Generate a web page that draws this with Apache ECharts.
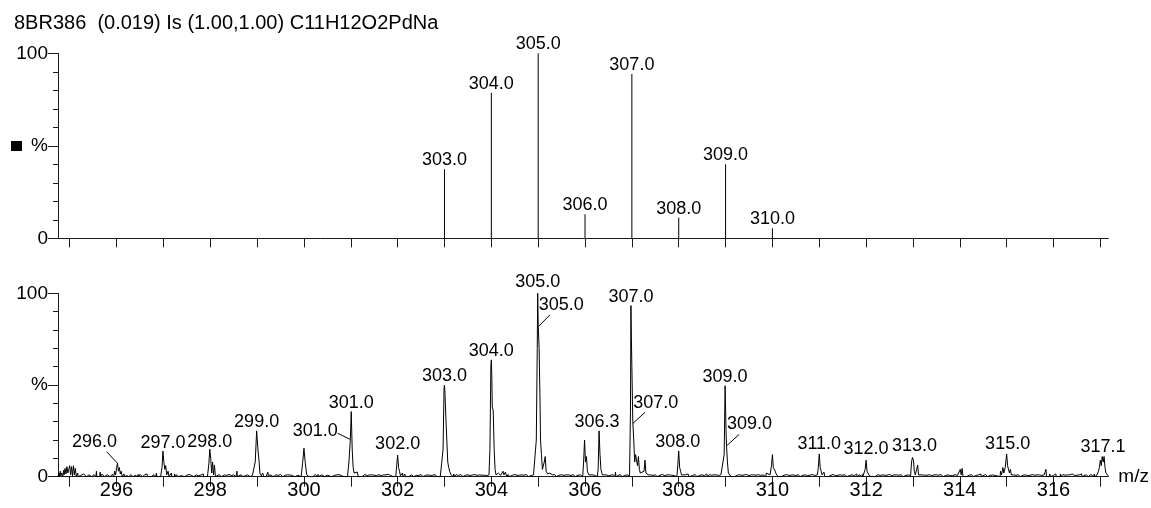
<!DOCTYPE html>
<html><head><meta charset="utf-8">
<script src="https://cdn.jsdelivr.net/npm/echarts@6/dist/echarts.min.js"></script>
<style>html,body{margin:0;padding:0;background:#fff}#c{width:1151px;height:508px}</style>
</head><body><div id="c"></div>
<script>
// ---------------- DATA ----------------
const TITLE = "8BR386  (0.019) Is (1.00,1.00) C11H12O2PdNa";
const X_NAME = "m/z";
const xTickValues = [295,296,297,298,299,300,301,302,303,304,305,306,307,308,309,310,311,312,313,314,315,316,317];
const xLabelValues = [296,298,300,302,304,306,308,310,312,314,316];
const yLabelText = {0:"0", 50:"%", 100:"100"};

// theoretical isotope pattern (top panel)
const theoMz = [303,304,305,306,307,308,309,310];
const theoInt = [37.3,78.7,100,13,88.8,11.1,40,5.4];
const theoLabels = ["303.0","304.0","305.0","306.0","307.0","308.0","309.0","310.0"];

// measured profile spectrum (bottom panel) [m/z, %]
const spectrum = [
[294.75,0],[294.77,2],[294.78,0],[294.80,3],[294.81,0.5],[294.83,2],[294.85,0],[294.87,3.5],[294.88,1],[294.90,4.5],[294.92,1.5],[294.94,5.5],[294.96,2],[294.98,4],[295.00,6],[295.02,1],[295.04,5.5],[295.06,0.5],[295.08,6],[295.10,1],[295.12,4.5],[295.14,0],[295.17,2],[295.18,0],[295.25,0],[295.26,1],[295.27,0],[295.36,0],[295.37,0.8],[295.38,0],[295.47,0],[295.48,0.6],[295.49,0],[295.56,0],[295.57,3],[295.58,0],[295.64,0],[295.65,2.5],[295.66,0],[295.74,0],[295.75,0.8],[295.76,0],[295.86,0],[295.87,1],[295.88,0],
[295.94,0],[295.96,3],[295.98,1],[296.0,5],[296.02,7.3],[296.04,3],[296.06,5],[296.08,1.5],[296.1,3],[296.12,0],[296.15,0],[296.16,1.5],[296.17,0],[296.25,0],[296.26,1],[296.27,0],[296.35,0],[296.36,0.8],[296.37,0],[296.45,0],[296.46,1.2],[296.47,0],[296.55,0],[296.56,0.6],[296.57,0],[296.64,0],[296.65,1.5],[296.66,0],[296.74,0],[296.75,0.6],[296.76,0],[296.84,0],[296.85,2],[296.86,0],
[296.94,0],[296.97,5],[296.99,14],[297.01,8],[297.03,4],[297.05,6],[297.07,1],[297.1,3],[297.12,0],[297.16,0],[297.17,2],[297.18,0],[297.23,0],[297.24,1.5],[297.25,0],[297.32,0],[297.33,0.8],[297.34,0],[297.45,0],[297.46,0.5],[297.47,0],[297.65,0],[297.66,0.5],[297.67,0],[297.84,0],[297.85,1.5],[297.86,0],
[297.94,0],[297.97,7],[297.99,15],[298.01,10],[298.03,2],[298.05,8],[298.07,1],[298.09,6.4],[298.11,0],[298.24,0],[298.25,1],[298.3,1],[298.31,0],[298.55,0],[298.56,0.5],[298.57,3],[298.58,0],[298.69,0],[298.7,0.5],[298.71,0],[298.85,0],[298.86,0.8],[298.87,0],
[298.93,0],[298.96,8],[298.99,25],[299.02,14],[299.04,9],[299.06,2],[299.09,0.5],[299.12,2],[299.14,0],[299.19,0],[299.2,1],[299.22,0],[299.23,2.5],[299.24,0],[299.35,0],[299.36,0.5],[299.37,0],[299.55,0],[299.56,0.8],[299.57,0],[299.69,0],[299.7,1],[299.71,0],[299.81,0],[299.82,1],[299.83,0],
[299.94,0],[299.97,7],[300.0,15.5],[300.03,7],[300.06,1],[300.09,2],[300.11,0],[300.19,0],[300.2,1],[300.21,0],[300.29,0],[300.3,1.2],[300.31,0],[300.44,0],[300.45,1],[300.46,0],[300.59,0],[300.6,0.8],[300.61,0],[300.69,0],[300.7,1],[300.71,0],[300.86,0],[300.87,1],[300.88,0],
[300.93,0],[300.96,8],[300.99,20],[301.01,35.5],[301.03,15],[301.05,5],[301.07,2],[301.09,3],[301.11,1],[301.14,2.5],[301.16,0],[301.24,0],[301.25,1],[301.26,0],[301.44,0],[301.45,1],[301.46,0],[301.54,0],[301.55,0.6],[301.56,0],[301.74,0],[301.75,1],[301.76,0],[301.91,0],[301.92,0.8],[301.93,0],
[301.96,0],[301.98,6],[302.0,11.8],[302.02,5],[302.04,3],[302.06,0.5],[302.1,2],[302.12,0],[302.15,1.5],[302.17,0],[302.24,0],[302.25,1],[302.26,0],[302.34,0],[302.35,0.8],[302.36,0],[302.44,0],[302.45,0.6],[302.46,0],[302.54,0],[302.55,1],[302.56,0],[302.74,0],[302.75,0.8],[302.76,0],[302.84,0],[302.85,0.6],[302.86,0],[302.91,0],[302.92,1],
[302.95,1],[302.97,15],[302.99,48],[303.0,50],[303.01,46],[303.03,32],[303.05,20],[303.07,8],[303.09,5],[303.11,3],[303.14,1],[303.19,0],[303.2,1.5],[303.21,0],[303.39,0],[303.4,0.8],[303.41,0],[303.59,0],[303.6,1],[303.61,0],[303.79,0],[303.8,0.8],[303.81,0],[303.89,0],[303.9,0.6],[303.91,0],
[303.95,1],[303.97,15],[303.99,60],[304.0,63.7],[304.01,55],[304.02,38],[304.04,36],[304.06,15],[304.08,4],[304.1,1],[304.15,2],[304.2,0.8],[304.25,3],[304.27,1],[304.3,2.5],[304.33,0],[304.39,0],[304.4,1],[304.41,0],[304.59,0],[304.6,0.8],[304.61,0],[304.79,0],[304.8,0.8],[304.81,0],[304.89,0],[304.9,1],
[304.93,1],[304.96,20],[304.98,70],[304.99,100],[305.0,83],[305.02,70],[305.04,40],[305.05,20],[305.07,12],[305.09,4],[305.11,3],[305.13,8],[305.15,11],[305.17,3],[305.2,1.5],[305.25,2],[305.3,1],[305.32,0],[305.39,0],[305.4,0.8],[305.41,0],[305.59,0],[305.6,1],[305.61,0],[305.79,0],[305.8,0.8],[305.81,0],
[305.95,0],[305.97,8],[305.99,20],[306.01,8],[306.03,11],[306.05,3],[306.08,1],[306.1,2],[306.12,0],[306.19,0],[306.2,0.8],[306.21,0],[306.26,0],[306.28,4],[306.3,25],[306.32,12],[306.34,4],[306.37,1],[306.39,0],[306.54,0],[306.55,0.8],[306.56,0],[306.64,0],[306.65,2.5],[306.66,0],[306.79,0],[306.8,0.8],[306.81,0],
[306.95,0.5],[306.97,35],[306.98,93.3],[306.99,75],[307.0,60],[307.02,30],[307.04,20],[307.06,8],[307.08,12],[307.1,13],[307.12,6],[307.14,11],[307.16,4],[307.18,2],[307.22,1],[307.26,3],[307.28,9],[307.3,2],[307.35,1],[307.37,0],[307.54,0],[307.55,0.8],[307.56,0],[307.74,0],[307.75,1],[307.76,0],[307.92,0],[307.93,0.8],[307.94,0],
[307.96,0],[307.98,6],[308.0,14],[308.02,5],[308.04,3],[308.06,1],[308.1,2],[308.15,1],[308.2,1.5],[308.22,0],[308.39,0],[308.4,1],[308.41,0],[308.59,0],[308.6,1.5],[308.61,0],[308.79,0],[308.8,1],[308.81,0],
[308.94,0.5],[308.97,12],[308.99,49.6],[309.01,25],[309.02,17],[309.04,8],[309.06,2],[309.1,1],[309.12,0],[309.19,0],[309.2,0.8],[309.21,0],[309.39,0],[309.4,1],[309.41,0],[309.59,0],[309.6,1],[309.61,0],[309.79,0],[309.8,1],[309.81,0],[309.86,0],[309.87,2],[309.9,1],
[309.95,1],[309.98,6],[310.0,12],[310.02,5],[310.04,5],[310.06,3],[310.08,1.5],[310.12,0],[310.19,0],[310.2,1],[310.21,0],[310.39,0],[310.4,0.8],[310.41,0],[310.59,0],[310.6,0.8],[310.61,0],[310.79,0],[310.8,0.8],[310.81,0],
[310.96,1],[310.98,5],[311.0,12.4],[311.02,5],[311.04,4],[311.06,1],[311.1,2.5],[311.12,0],[311.19,0],[311.2,1],[311.21,0],[311.39,0],[311.4,0.8],[311.41,0],[311.59,0],[311.6,1],[311.61,0],[311.79,0],[311.8,1.5],[311.81,0],[311.91,0],[311.92,1.2],[311.93,0],
[311.96,0.5],[311.98,4],[312.0,9],[312.02,3],[312.04,2],[312.07,0.5],[312.1,1.5],[312.12,0],[312.19,0],[312.2,1],[312.21,0],[312.39,0],[312.4,0.8],[312.41,0],[312.59,0],[312.6,1],[312.61,0],[312.79,0],[312.8,0.8],[312.81,0],
[312.95,0.5],[312.97,8],[312.99,10.5],[313.01,9],[313.03,3],[313.05,1],[313.08,4],[313.1,6.4],[313.12,1],[313.15,0],[313.24,0],[313.25,0.8],[313.26,0],[313.44,0],[313.45,1],[313.46,0],[313.64,0],[313.65,0.8],[313.66,0],[313.84,0],[313.85,0.6],[313.86,0],
[313.99,0.5],[314.01,4],[314.03,1],[314.05,4.5],[314.07,0],[314.14,0],[314.15,0.8],[314.16,0],[314.29,0],[314.3,1],[314.31,0],[314.44,0],[314.45,1.5],[314.46,0],[314.59,0],[314.6,0.8],[314.61,0],[314.79,0],[314.8,0.5],[314.81,0],[314.86,0],[314.87,3],[314.89,1],[314.92,5],[314.94,2],
[314.97,5],[315.0,12.4],[315.02,6],[315.04,5],[315.06,2],[315.08,4],[315.1,1],[315.12,0],[315.29,0],[315.3,1],[315.31,0],[315.49,0],[315.5,0.8],[315.51,0],[315.69,0],[315.7,1],[315.71,0],[315.83,0],[315.84,4],[315.85,0],[315.91,0],[315.92,1.5],[315.93,0],
[316.04,0],[316.05,1.5],[316.06,0],[316.14,0],[316.15,1.5],[316.16,0],[316.29,0],[316.3,1],[316.31,0],[316.49,0],[316.5,0.8],[316.51,0],[316.59,0],[316.6,1.5],[316.61,0],[316.74,0],[316.75,1],[316.76,0],[316.86,0],[316.87,1.5],[316.88,0],[316.92,0],[316.93,1],
[316.96,3],[316.98,5],[317.0,9],[317.02,6],[317.04,11],[317.06,8],[317.08,11],[317.1,5],[317.12,2],[317.14,3],[317.17,0.5]
];
// small baseline noise spikes [m/z, %]
const baselineNoise = [
[295.21,1],[295.23,0.6],[295.30,1.5],[295.33,0.7],[295.41,1],[295.44,0.6],[295.52,1.2],[295.61,0.8],[295.69,1.4],[295.72,0.6],[295.80,1.1],[295.83,0.7],[295.91,1.3],
[296.20,1],[296.22,0.6],[296.30,1.2],[296.40,0.7],[296.50,1.3],[296.52,0.5],[296.60,1],[296.70,0.8],[296.80,1.1],[296.90,0.7],
[297.20,0.8],[297.28,1.1],[297.38,0.6],[297.41,1],[297.50,0.8],[297.55,1.2],[297.60,0.7],[297.70,1],[297.75,0.5],[297.80,0.9],[297.90,0.6],
[298.15,0.8],[298.19,1.1],[298.35,0.7],[298.40,1.2],[298.45,0.6],[298.50,1],[298.62,0.8],[298.66,1.1],[298.75,0.6],[298.80,1],[298.90,0.7],
[299.16,0.8],[299.27,1.1],[299.31,0.6],[299.40,1],[299.45,0.7],[299.50,1.2],[299.60,0.8],[299.65,1],[299.75,0.6],[299.78,1.2],[299.87,0.8],[299.91,1],
[300.15,0.8],[300.24,1.2],[300.34,0.6],[300.38,1],[300.50,0.8],[300.54,1.3],[300.65,0.7],[300.75,1.1],[300.80,0.6],[300.90,0.9],
[301.20,0.8],[301.30,1.2],[301.35,0.6],[301.40,1],[301.50,0.8],[301.60,1.1],[301.65,0.6],[301.70,1],[301.80,1.3],[301.85,0.7],
[302.20,0.8],[302.30,1.1],[302.40,0.7],[302.50,1.2],[302.60,0.8],[302.65,1],[302.70,0.6],[302.80,1.1],[302.88,0.7],
[303.17,0.8],[303.25,1.1],[303.30,0.7],[303.35,1.2],[303.45,0.8],[303.50,1],[303.55,0.6],[303.65,1.1],[303.70,0.7],[303.75,1],[303.85,0.8],
[304.36,1.2],[304.45,0.8],[304.50,1.2],[304.55,0.7],[304.65,1],[304.70,0.8],[304.75,1.2],[304.85,0.6],
[305.35,1.2],[305.45,0.8],[305.50,1.1],[305.55,0.7],[305.65,1],[305.70,0.6],[305.75,1.2],[305.85,0.8],[305.90,1],
[306.15,1],[306.23,0.7],[306.45,1],[306.50,0.6],[306.60,1.1],[306.70,0.8],[306.75,1.2],[306.85,0.7],[306.90,1],
[307.40,1],[307.45,0.7],[307.50,1.1],[307.60,0.8],[307.65,1.2],[307.70,0.6],[307.80,1],[307.85,0.8],[307.90,0.6],
[308.25,1],[308.30,0.7],[308.35,1.2],[308.45,0.8],[308.50,1],[308.55,0.6],[308.65,1.1],[308.70,0.8],[308.75,1],[308.85,0.7],[308.90,1],
[309.15,1],[309.25,0.8],[309.30,1.1],[309.35,0.7],[309.45,1.2],[309.50,0.6],[309.55,1],[309.65,0.8],[309.70,1.1],[309.75,0.7],[309.83,1],
[310.15,1],[310.25,0.8],[310.30,1.2],[310.35,0.7],[310.45,1],[310.50,0.6],[310.55,1.1],[310.65,0.8],[310.70,1],[310.75,0.6],[310.85,1.2],[310.90,0.7],
[311.15,1],[311.25,0.8],[311.30,1.2],[311.35,0.6],[311.45,1],[311.50,0.8],[311.55,1.1],[311.65,0.7],[311.70,1],[311.75,0.6],[311.85,1.1],
[312.15,0.8],[312.25,1.1],[312.30,0.7],[312.35,1],[312.45,0.8],[312.50,1.2],[312.55,0.6],[312.65,1],[312.70,0.8],[312.75,1.1],[312.85,0.7],[312.90,1],
[313.20,1],[313.30,0.8],[313.35,1.1],[313.40,0.6],[313.50,1],[313.55,0.8],[313.60,1.2],[313.70,0.7],[313.75,1],[313.80,0.6],[313.90,1.1],[313.95,0.7],
[314.10,1],[314.20,0.8],[314.25,1.1],[314.35,0.7],[314.40,1],[314.50,0.8],[314.55,1.2],[314.65,0.7],[314.70,1],[314.75,0.6],[314.83,1.1],
[315.15,1],[315.20,0.7],[315.25,1.1],[315.35,0.8],[315.40,1],[315.45,0.6],[315.55,1.1],[315.60,0.8],[315.65,1],[315.75,0.7],[315.80,1],
[315.97,1],[316.00,0.7],[316.10,1],[316.20,1.2],[316.25,0.8],[316.35,1],[316.40,1.5],[316.45,0.7],[316.55,1],[316.65,0.8],[316.70,1.1],[316.80,1.2],[316.84,0.6],[316.90,1]
];

// peak annotations (bottom panel)
const peakLabelText = ["296.0","297.0","298.0","299.0","301.0","301.0","302.0","303.0","304.0","305.0","305.0","306.3","307.0","307.0","308.0","309.0","309.0","311.0","312.0","313.0","315.0","317.1"];
const peakLabelMz   = [296.02,296.99,297.99,298.99,300.99,301.01,302.0,303.0,304.0,304.99,305.0,306.3,306.98,307.02,308.0,308.99,309.02,311.0,312.0,312.99,315.0,317.08];
const peakLabelInt  = [7.3,14,15,25,20,35.5,11.8,50,63.7,100,83,25,93.3,30,14,49.6,17,12.4,9,10.5,12.4,11];
// leader lines: [from m/z, from %, to m/z, to %]
const leaders = [
  [296.02,7.3,295.79,13.6],
  [300.98,20.4,300.72,23.7],
  [305.01,82,305.25,88.2],
  [307.02,29,307.28,35.1],
  [309.03,17,309.29,23.1]
];

// ---------------- LAYOUT / STYLE ----------------
const FONT = "'Liberation Sans', Arial, Helvetica, sans-serif";
const INK = '#000';
const AX = '#1a1a1a';
const peakLabelOffsets = [[-23,-12],[0,1],[0,2],[0,0],[-35,0],[0,0],[0,-2],[0,0],[0,0],[0,-2],[23,-10],[-2,0],[0,0],[23,-10],[-1,0],[0,0],[23,-12],[0,-1],[0,-2],[2,-2],[1,-1],[-1,0]];

const trace = spectrum.concat(baselineNoise).sort((a,b)=>a[0]-b[0]);

const chart = echarts.init(document.getElementById('c'), null, {renderer:'canvas'});

function xAxisCfg(grid, showLabels, tickLen){
  return {
    type:'value', gridIndex:grid, min:294.75, max:317.17,
    axisLine:{show:true, onZero:false, lineStyle:{color:AX, width:1}},
    axisTick:{show:true, length:tickLen, customValues:xTickValues, lineStyle:{color:AX,width:1}},
    axisLabel:{show:showLabels, customValues:xLabelValues, color:INK, fontFamily:FONT, fontSize:20, margin:4},
    splitLine:{show:false},
    name: showLabels ? X_NAME : '',
    nameLocation:'end', nameGap:10,
    nameTextStyle:{color:INK, fontFamily:FONT, fontSize:19, verticalAlign:'middle'}
  };
}
function yAxisCfg(grid){
  return {
    type:'value', gridIndex:grid, min:0, max:100, interval:50,
    axisLine:{show:true, lineStyle:{color:AX, width:1}},
    axisTick:{show:true, length:10, lineStyle:{color:AX,width:1}},
    minorTick:{show:true, splitNumber:5, length:5, lineStyle:{color:AX,width:1}},
    axisLabel:{show:true, color:INK, fontFamily:FONT, fontSize:19, margin:10,
      formatter:v=>yLabelText[v]!==undefined?yLabelText[v]:''},
    splitLine:{show:false}, minorSplitLine:{show:false}
  };
}

const labelStyle = {show:true, position:'top', distance:0, formatter:p=>p.name, color:INK, opacity:1, fontFamily:FONT, fontSize:18};
const series = [];
series.push({
  type:'bar', xAxisIndex:0, yAxisIndex:0, barWidth:1,
  itemStyle:{color:INK},
  data: theoMz.map((m,i)=>({value:[m, theoInt[i]], name:theoLabels[i]})),
  label:labelStyle, silent:true, animation:false
});
series.push({
  type:'line', xAxisIndex:1, yAxisIndex:1, data:trace, showSymbol:false, symbol:'none',
  lineStyle:{color:INK, width:1}, silent:true, animation:false
});
series.push({
  type:'scatter', xAxisIndex:1, yAxisIndex:1, symbolSize:0.01,
  data: peakLabelText.map((t,i)=>({value:[peakLabelMz[i], peakLabelInt[i]], name:t,
      label:{offset:peakLabelOffsets[i]}})),
  label:labelStyle,
  itemStyle:{color:INK, opacity:1}, silent:true, animation:false, z:5
});
leaders.forEach(l=>{
  series.push({type:'line', xAxisIndex:1, yAxisIndex:1, data:[[l[0],l[1]],[l[2],l[3]]],
    symbol:'none', lineStyle:{color:INK,width:1}, silent:true, animation:false});
});

chart.setOption({
  backgroundColor:'#fff',
  animation:false,
  title:{text:TITLE, left:9, top:8, textStyle:{color:INK, fontFamily:FONT, fontSize:20, fontWeight:'normal'}},
  grid:[
    {left:58, right:42.7, top:53.3, height:185},
    {left:58, right:42.7, top:293.3, height:183.4}
  ],
  xAxis:[xAxisCfg(0,false,9), xAxisCfg(1,true,10)],
  yAxis:[yAxisCfg(0), yAxisCfg(1)],
  graphic:[{type:'rect', shape:{x:11, y:141, width:11, height:10}, style:{fill:INK}}],
  series:series
});
</script></body></html>
